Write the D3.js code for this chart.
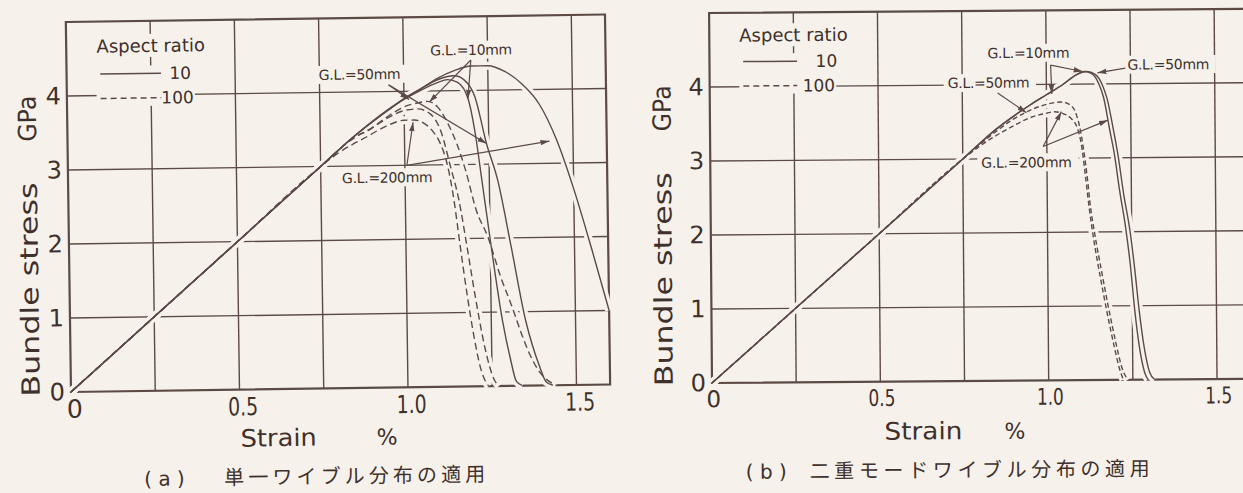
<!DOCTYPE html>
<html>
<head>
<meta charset="utf-8">
<script src="https://cdn.jsdelivr.net/npm/d3@7/dist/d3.min.js"></script>
<style>
  html, body { margin: 0; padding: 0; background: #f6f2eb; }
  svg { display: block; }
  text { font-family: "DejaVu Sans", "Noto Sans", sans-serif; fill: #3f302c; }
  .jp { font-family: "Noto Sans CJK JP", "Noto Sans CJK SC", sans-serif; }
</style>
</head>
<body>
<svg id="fig" width="1243" height="493"></svg>
<script>
// ---- axis ticks and grid ----
const strainTicks = [0, 0.5, 1.0, 1.5];
const strainTickLabels = ["0", "0.5", "1.0", "1.5"];
const stressTicks = [0, 1, 2, 3, 4];
const strainGrid = [0.25, 0.5, 0.75, 1.0, 1.25, 1.5];
const stressGrid = [1, 2, 3, 4];
const aspectRatios = ["10", "100"];

// ---- (a) single Weibull distribution: [strain %, bundle stress GPa] ----
const a_ar10_gl10 = [[0,0],[0.25,1],[0.5,2],[0.75,3],[0.85,3.4],[0.95,3.74],[1.0,3.89],[1.05,4.01],[1.1,4.11],[1.13,4.15],[1.16,4.11],[1.19,3.89],[1.21,3.42],[1.228,2.78],[1.253,1.88],[1.283,0.89],[1.305,0.37],[1.322,0.06],[1.34,0]];
const a_ar10_gl50 = [[0,0],[0.25,1],[0.5,2],[0.75,3],[0.85,3.4],[0.95,3.75],[1.0,3.9],[1.05,4.03],[1.1,4.15],[1.15,4.2],[1.18,4.14],[1.21,3.92],[1.243,3.28],[1.275,2.78],[1.312,1.88],[1.352,0.88],[1.392,0.25],[1.41,0.05],[1.43,0]];
const a_ar10_gl200 = [[0,0],[0.25,1],[0.5,2],[0.75,3],[0.85,3.4],[0.95,3.74],[1.0,3.9],[1.05,4.03],[1.1,4.17],[1.15,4.27],[1.2,4.33],[1.25,4.33],[1.3,4.25],[1.35,4.08],[1.4,3.81],[1.45,3.33],[1.5,2.65],[1.55,1.85],[1.6,1.0]];
const a_ar100_gl10 = [[0,0],[0.25,1],[0.5,2],[0.75,3],[0.85,3.38],[0.9,3.5],[0.95,3.66],[1.0,3.79],[1.04,3.84],[1.07,3.86],[1.1,3.78],[1.13,3.55],[1.155,3.28],[1.18,2.92],[1.21,2.38],[1.243,2.02],[1.28,1.47],[1.312,1.07],[1.34,0.69],[1.362,0.43],[1.39,0.19],[1.44,0]];
const a_ar100_gl50 = [[0,0],[0.25,1],[0.5,2],[0.75,3],[0.85,3.38],[0.9,3.5],[0.95,3.64],[1.0,3.74],[1.04,3.76],[1.08,3.68],[1.11,3.43],[1.135,2.98],[1.159,2.52],[1.18,1.92],[1.205,1.17],[1.23,0.52],[1.255,0.1],[1.27,0]];
const a_ar100_gl200 = [[0,0],[0.25,1],[0.5,2],[0.75,3],[0.8,3.17],[0.887,3.39],[0.95,3.54],[1.0,3.61],[1.03,3.61],[1.06,3.56],[1.085,3.45],[1.104,3.31],[1.125,3.02],[1.144,2.53],[1.16,1.93],[1.18,1.22],[1.2,0.62],[1.215,0.27],[1.235,0.03],[1.24,0]];

// ---- (b) bimodal Weibull distribution ----
const b_ar10_gl10 = [[0,0],[0.25,1],[0.5,2],[0.75,3],[0.85,3.4],[0.95,3.72],[1.0,3.86],[1.05,4.0],[1.09,4.13],[1.113,4.17],[1.135,4.14],[1.155,4.01],[1.17,3.81],[1.187,3.38],[1.2,3.06],[1.215,2.56],[1.232,2.06],[1.245,1.56],[1.257,0.95],[1.27,0.45],[1.285,0.1],[1.295,0]];
const b_ar10_gl50 = [[0,0],[0.25,1],[0.5,2],[0.75,3],[0.85,3.4],[0.95,3.72],[1.0,3.86],[1.05,4.0],[1.09,4.13],[1.12,4.17],[1.145,4.13],[1.165,4.0],[1.18,3.8],[1.198,3.38],[1.212,3.01],[1.227,2.51],[1.245,2.01],[1.258,1.5],[1.27,0.95],[1.284,0.45],[1.3,0.1],[1.315,0]];
const b_ar100_gl10 = [[0,0],[0.25,1],[0.5,2],[0.75,3],[0.85,3.37],[0.9,3.53],[0.95,3.65],[1.0,3.73],[1.044,3.76],[1.07,3.72],[1.083,3.65],[1.098,3.42],[1.108,3.15],[1.12,2.71],[1.128,2.35],[1.14,1.98],[1.16,1.46],[1.18,0.96],[1.2,0.51],[1.218,0.16],[1.235,0]];
const b_ar100_gl200 = [[0,0],[0.25,1],[0.5,2],[0.75,3],[0.8,3.17],[0.9,3.44],[0.95,3.55],[1.0,3.61],[1.024,3.63],[1.05,3.6],[1.072,3.54],[1.093,3.38],[1.105,3.11],[1.115,2.71],[1.125,2.3],[1.137,1.9],[1.155,1.41],[1.175,0.91],[1.195,0.46],[1.21,0.16],[1.222,0]];

const INK = "#5c4a45", BG = "#f6f2eb";
const svg = d3.select("#fig");
svg.append("rect").attr("width", 1243).attr("height", 493).attr("fill", BG);

svg.append("defs").append("marker")
  .attr("id", "head").attr("viewBox", "0 0 10 6").attr("refX", 10).attr("refY", 3)
  .attr("markerWidth", 9).attr("markerHeight", 6).attr("markerUnits", "userSpaceOnUse")
  .attr("orient", "auto")
  .append("path").attr("d", "M0,0 L10,3 L0,6 Z").attr("fill", INK);

const panels = [
  {
    x0: 71, y0: 392, kx: 337, ky: 74, xMax: 1.6, yMax: 5.0, tilt: -0.8,
    series: [
      { pts: a_ar10_gl10, dashed: false }, { pts: a_ar10_gl50, dashed: false }, { pts: a_ar10_gl200, dashed: false },
      { pts: a_ar100_gl10, dashed: true }, { pts: a_ar100_gl50, dashed: true }, { pts: a_ar100_gl200, dashed: true }
    ],
    dash: "7,4",
    legend: { title: [0.09, 4.58], row1: 4.29, row2: 3.96, line: [0.1, 0.28], label10: 0.305, label100: 0.28 },
    notes: [
      { text: "G.L.=10mm", at: [1.08, 4.48], from: [1.2, 4.41], to: [[1.075, 3.85], [1.19, 3.89]] },
      { text: "G.L.=50mm", at: [0.748, 4.17], from: [0.955, 4.09], to: [[1.015, 3.89], [1.243, 3.28]] },
      { text: "G.L.=200mm", at: [0.813, 2.77], from: [1.006, 3.0], to: [[1.026, 3.58], [1.43, 3.3]] }
    ],
    tick: { size: 25, len: 30, dx: 3 },
    yTitle: { x: 31, start: 396, len: 214, gpaStart: 141, gpaLen: 46 },
    xTitle: { x: 240, y: 449, len: 76, pct: 376 },
    caption: { x: 143, y: 487, tag: "( a )", jpX: 223, jpLen: 261, text: "単一ワイブル分布の適用" }
  },
  {
    x0: 712, y0: 383, kx: 336.7, ky: 74, xMax: 1.6, yMax: 5.0, tilt: -0.45,
    series: [
      { pts: b_ar10_gl10, dashed: false }, { pts: b_ar10_gl50, dashed: false },
      { pts: b_ar100_gl10, dashed: true }, { pts: b_ar100_gl200, dashed: true }
    ],
    dash: "5,3",
    legend: { title: [0.089, 4.61], row1: 4.34, row2: 4.01, line: [0.1, 0.26], label10: 0.315, label100: 0.276 },
    notes: [
      { text: "G.L.=10mm", at: [0.826, 4.36], bracket: [1.013, 4.26], to: [[1.108, 4.17], [1.016, 3.87]] },
      { text: "G.L.=50mm", at: [1.241, 4.19], from: [1.235, 4.21], to: [[1.152, 4.15]] },
      { text: "G.L.=50mm", at: [0.707, 3.96], from: [0.855, 3.89], to: [[0.94, 3.62]] },
      { text: "G.L.=200mm", at: [0.805, 2.88], from: [0.989, 3.16], to: [[1.044, 3.63], [1.182, 3.51]] }
    ],
    tick: { size: 23, len: 27, dx: 1 },
    yTitle: { x: 664, start: 386, len: 214, gpaStart: 131, gpaLen: 46 },
    xTitle: { x: 884, y: 441, len: 78, pct: 1004 },
    caption: { x: 745, y: 479, tag: "( b )", jpX: 809, jpLen: 340, text: "二重モードワイブル分布の適用" }
  }
];

panels.forEach(p => {
  const x = d3.scaleLinear().domain([0, p.xMax]).range([p.x0, p.x0 + p.kx * p.xMax]);
  const y = d3.scaleLinear().domain([0, p.yMax]).range([p.y0, p.y0 - p.ky * p.yMax]);
  const g = svg.append("g").attr("transform", `rotate(${p.tilt},${p.x0},${p.y0})`);

  // grid
  g.append("g").selectAll("line").data(strainGrid).join("line")
    .attr("x1", d => x(d)).attr("x2", d => x(d)).attr("y1", y(0)).attr("y2", y(p.yMax))
    .attr("stroke", INK).attr("stroke-width", 1.4);
  g.append("g").selectAll("line").data(stressGrid).join("line")
    .attr("x1", x(0)).attr("x2", x(p.xMax)).attr("y1", d => y(d)).attr("y2", d => y(d))
    .attr("stroke", INK).attr("stroke-width", 1.4);

  // frame
  g.append("rect").attr("x", x(0)).attr("y", y(p.yMax))
    .attr("width", x(p.xMax) - x(0)).attr("height", y(0) - y(p.yMax))
    .attr("fill", "none").attr("stroke", INK).attr("stroke-width", 2.2);

  // text blocks that knock out the grid behind them
  const knock = g.append("g");
  const texts = g.append("g");
  function label(str, px, py, size) {
    const t = texts.append("text").attr("x", px).attr("y", py)
      .attr("font-size", size).text(str);
    const b = t.node().getBBox();
    knock.append("rect").attr("x", b.x - 4).attr("y", b.y - 1)
      .attr("width", b.width + 8).attr("height", b.height + 2).attr("fill", BG);
    return t;
  }

  // legend
  const L = p.legend;
  label("Aspect ratio", x(L.title[0]), y(L.title[1]), 18);
  knock.append("rect").attr("x", x(L.line[0]) - 4).attr("y", y(L.row1) - 8)
    .attr("width", x(L.label100 + 0.1) - x(L.line[0]) + 4).attr("height", y(L.row2) - y(L.row1) + 16)
    .attr("fill", BG);
  texts.append("line").attr("x1", x(L.line[0])).attr("x2", x(L.line[1]))
    .attr("y1", y(L.row1)).attr("y2", y(L.row1)).attr("stroke", INK).attr("stroke-width", 1.5);
  texts.append("text").attr("x", x(L.label10)).attr("y", y(L.row1)).attr("dy", "0.35em")
    .attr("font-size", 17).text(aspectRatios[0]);
  texts.append("line").attr("x1", x(L.line[0])).attr("x2", x(L.line[1]))
    .attr("y1", y(L.row2)).attr("y2", y(L.row2)).attr("stroke", INK).attr("stroke-width", 1.5)
    .attr("stroke-dasharray", "6,4");
  texts.append("text").attr("x", x(L.label100)).attr("y", y(L.row2)).attr("dy", "0.35em")
    .attr("font-size", 17).text(aspectRatios[1]);

  // gauge-length annotations
  p.notes.forEach(n => {
    label(n.text, x(n.at[0]), y(n.at[1]), 14).attr("letter-spacing", -0.3);
  });

  // curves: a halo in the paper colour breaks the grid where a curve crosses it
  const line = d3.line().x(d => x(d[0])).y(d => y(d[1])).curve(d3.curveMonotoneX);
  const curves = g.append("g");
  p.series.forEach(s => {
    curves.append("path").attr("d", line(s.pts)).attr("fill", "none")
      .attr("stroke", BG).attr("stroke-width", 8);
  });
  p.series.forEach(s => {
    curves.append("path").attr("d", line(s.pts)).attr("fill", "none")
      .attr("stroke", INK).attr("stroke-width", 1.4)
      .attr("stroke-dasharray", s.dashed ? p.dash : null);
  });

  // leader arrows
  const arrows = g.append("g");
  p.notes.forEach(n => {
    const start = n.bracket || n.from;
    n.to.forEach(t => {
      arrows.append("line").attr("x1", x(start[0])).attr("y1", y(start[1]))
        .attr("x2", x(t[0])).attr("y2", y(t[1]))
        .attr("stroke", INK).attr("stroke-width", 1.2).attr("marker-end", "url(#head)");
    });
  });

  // axes
  const xAxis = g.append("g").attr("transform", `translate(0,${y(0)})`)
    .call(d3.axisBottom(x).tickValues(strainTicks)
      .tickFormat((d, i) => strainTickLabels[i]).tickSize(0).tickPadding(8));
  xAxis.select(".domain").remove();
  xAxis.selectAll("text").attr("font-size", p.tick.size).attr("dx", p.tick.dx)
    .style("font-family", "DejaVu Sans").attr("fill", "#3f302c")
    .each(function (d, i) {
      if (strainTickLabels[i].length > 1) d3.select(this).attr("textLength", p.tick.len).attr("lengthAdjust", "spacingAndGlyphs");
    });
  const yAxis = g.append("g").attr("transform", `translate(${x(0)},0)`)
    .call(d3.axisLeft(y).tickValues(stressTicks).tickFormat(d3.format("d")).tickSize(0).tickPadding(6));
  yAxis.select(".domain").remove();
  yAxis.selectAll("text").attr("font-size", 24)
    .style("font-family", "DejaVu Sans").attr("fill", "#3f302c");

  // axis titles
  const T = p.yTitle;
  g.append("text").attr("transform", `translate(${T.x},${T.start}) rotate(-90)`)
    .attr("dy", "0.35em").attr("font-size", 25)
    .attr("textLength", T.len).attr("lengthAdjust", "spacingAndGlyphs").text("Bundle stress");
  g.append("text").attr("transform", `translate(${T.x},${T.gpaStart}) rotate(-90)`)
    .attr("dy", "0.35em").attr("font-size", 25)
    .attr("textLength", T.gpaLen).attr("lengthAdjust", "spacingAndGlyphs").text("GPa");
  const X = p.xTitle;
  g.append("text").attr("x", X.x).attr("y", X.y).attr("font-size", 24)
    .attr("textLength", X.len).attr("lengthAdjust", "spacingAndGlyphs").text("Strain");
  g.append("text").attr("x", X.pct).attr("y", X.y).attr("font-size", 22).text("%");

  // caption
  const c = p.caption;
  g.append("text").attr("x", c.x).attr("y", c.y).attr("font-size", 20).text(c.tag);
  g.append("text").attr("class", "jp").attr("x", c.jpX).attr("y", c.y).attr("font-size", 20)
    .attr("textLength", c.jpLen).attr("lengthAdjust", "spacing").text(c.text);
});
</script>
</body>
</html>
